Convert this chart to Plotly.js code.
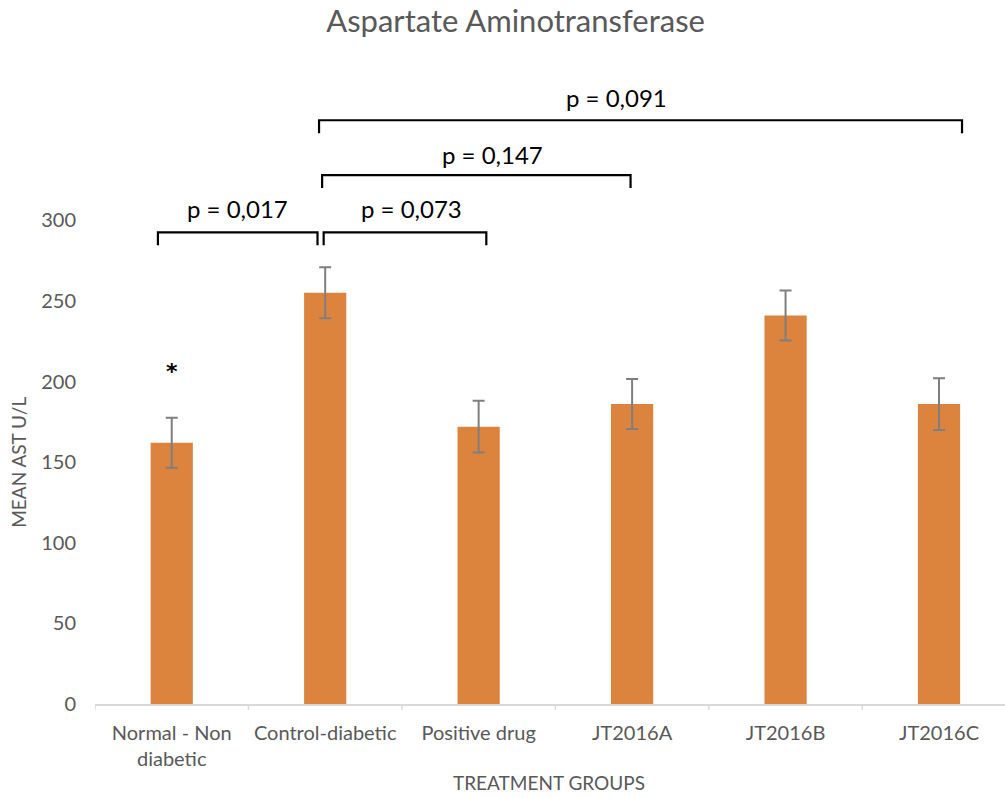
<!DOCTYPE html>
<html>
<head>
<meta charset="utf-8">
<script src="https://cdn.plot.ly/plotly-3.0.1.min.js"></script>
<style>html,body{margin:0;padding:0;background:#fff;}#chart{width:1005px;height:798px;}</style>
</head>
<body>
<div id="chart"></div>
<script>
// ---- data ----
const categories = ["Normal - Non<br>diabetic", "Control-diabetic", "Positive drug", "JT2016A", "JT2016B", "JT2016C"];
const meanAST = [162, 255, 172, 186, 241, 186];
const errAST = [15.5, 15.8, 16, 15.5, 15.5, 16];

// significance brackets (category-index positions, y in U/L)
const bracketStart = [-0.09, 0.99, 0.98, 0.96];
const bracketEnd   = [0.95, 2.05, 2.99, 5.15];
const bracketY     = [292.5, 292.5, 328, 362];
const bracketDrop  = [8, 8, 8, 8];
const bracketLabel = ["p = 0,017", "p = 0,073", "p = 0,147", "p = 0,091"];
const bracketLabelX = [0.43, 1.56, 2.09, 2.9];
const bracketLabelY = [307, 307, 341, 376];

const starX = 0, starY = 206;

const FONT = "Lato, 'Open Sans', sans-serif";
const GREY = "#595959";

const traces = [{
  type: "bar",
  x: [0,1,2,3,4,5],
  y: meanAST,
  width: 0.275,
  marker: {color: "#dc843e"},
  error_y: {type: "data", array: errAST, visible: true, color: "#7f7f7f", thickness: 2, width: 6},
  hoverinfo: "y",
  showlegend: false
}];

for (let i = 0; i < bracketStart.length; i++) {
  traces.push({
    type: "scatter", mode: "lines",
    x: [bracketStart[i], bracketStart[i], bracketEnd[i], bracketEnd[i]],
    y: [bracketY[i] - bracketDrop[i], bracketY[i], bracketY[i], bracketY[i] - bracketDrop[i]],
    line: {color: "#000", width: 2.2},
    hoverinfo: "skip", showlegend: false
  });
}

const annotations = bracketLabel.map((t, i) => ({
  x: bracketLabelX[i], y: bracketLabelY[i], xref: "x", yref: "y",
  text: t, showarrow: false, font: {family: FONT, size: 24, color: "#000"}
}));
annotations.push({x: starX, y: starY, xref: "x", yref: "y", text: "<b>*</b>", showarrow: false,
  font: {family: "DejaVu Sans", size: 22, color: "#000"}});
// axis titles
annotations.push({x: -0.085, y: 150, xref: "paper", yref: "y", text: "MEAN AST U/L", showarrow: false,
  textangle: -90, xanchor: "center", yanchor: "middle",
  font: {family: FONT, size: 19, color: GREY}});
annotations.push({x: 0.499, y: 0, xref: "paper", yref: "paper", text: "TREATMENT GROUPS", showarrow: false,
  xanchor: "center", yanchor: "top", yshift: -65,
  font: {family: FONT, size: 19, color: GREY}});

const layout = {
  width: 1005, height: 798,
  margin: {l: 95, r: 0, t: 59, b: 94},
  paper_bgcolor: "#fff", plot_bgcolor: "#fff",
  title: {text: "Aspartate Aminotransferase", x: 0.513, xanchor: "center", y: 0.987, yanchor: "top",
    font: {family: FONT, size: 31, color: GREY}},
  xaxis: {
    range: [-0.5, 5.43],
    tickmode: "array", tickvals: [0,1,2,3,4,5], ticktext: categories,
    showline: true, linecolor: "#d9d9d9", linewidth: 1.5,
    ticks: "", showgrid: false, zeroline: false,
    ticklabelstandoff: 10,
    tickfont: {family: FONT, size: 20, color: GREY}
  },
  yaxis: {
    range: [0, 400],
    tickmode: "array", tickvals: [0, 50, 100, 150, 200, 250, 300],
    showgrid: false, zeroline: false, showline: false,
    ticks: "", ticklabelstandoff: 18,
    tickfont: {family: FONT, size: 20, color: GREY}
  },
  shapes: [0,1,2,3,4,5,6].map(k => ({
    type: "line", xref: "x", yref: "paper", x0: k - 0.5, x1: k - 0.5, y0: 0, y1: -0.009,
    line: {color: "#d9d9d9", width: 1.5}
  })),
  annotations: annotations
};

Plotly.newPlot("chart", traces, layout, {displayModeBar: false, staticPlot: true});
</script>
</body>
</html>
